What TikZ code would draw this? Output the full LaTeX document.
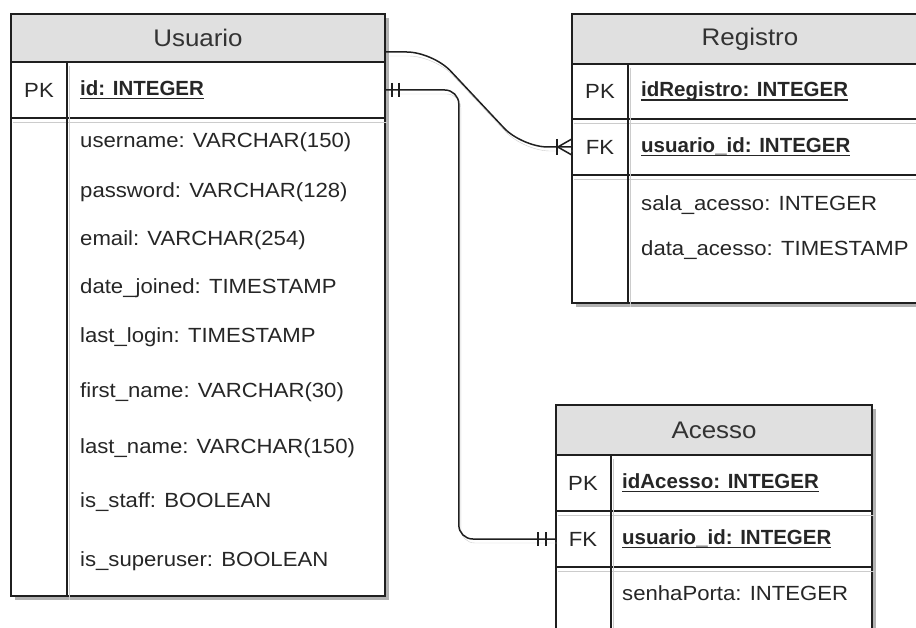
\documentclass[tikz,border=0pt]{standalone}
\usepackage{fontspec}
\setmainfont{Liberation Sans}[FakeStretch=1.08]
\newfontfamily\keyfont{Liberation Sans}
\newcommand\keyul[1]{\setbox0\hbox{#1}\rlap{\vrule width\wd0 height-2.6pt depth4pt}\box0}
\usepackage{tikz}
\usetikzlibrary{shadows}

\tikzset{
  er/.style={line width=1.5pt, draw=black!88},
  ershadow/.style={preaction={draw=black!20, transform canvas={shift={(2pt,-4pt)}}}},
  tablebox/.style={er, fill=white, drop shadow={shadow xshift=4pt, shadow yshift=-4pt, fill=black!30, opacity=1}},
  headbox/.style={er, fill=black!12, inner sep=0pt, text=black!80, font=\fontsize{24}{28}\selectfont},
  rowbox/.style={inner sep=0pt},
  keytxt/.style={text=black!85, inner sep=0pt, font=\fontsize{20.5}{24}\selectfont},
  pktxt/.style={anchor=west, text=black!85, inner sep=0pt, font=\keyfont\bfseries\fontsize{20.5}{24}\selectfont},
  fieldtxt/.style={anchor=west, text=black!85, inner sep=0pt, font=\fontsize{20.5}{24}\selectfont},
  conn/.style={er, ershadow},
  tick/.style={er}
}

\begin{document}
\begin{tikzpicture}[x=1pt, y=-1pt]
			\useasboundingbox (0,0) rectangle (916,628);
			\clip (0,0) rectangle (916,628);
			% Usuario
			\draw[tablebox] (11,14) rectangle (385,596);
			\node[headbox, minimum width=374pt, minimum height=48pt] (usuario) at (198,38) {Usuario};
			\node[rowbox, minimum width=374pt, minimum height=56pt] (usuPK) at (198,90) {};
			\draw[er, ershadow] (usuPK.south west) -- (usuPK.south east);
			\draw[er, ershadow] (67,62) -- (67,596);
			\node[keytxt] (usuPKlbl) at (39,90) {PK};
			\node[pktxt] (usuID) at (80,90) {\keyul{id: INTEGER}};
			\foreach \y/\t [count=\i] in {142/username: VARCHAR(150), 192/password: VARCHAR(128), 240/email: VARCHAR(254), 288/date\_joined: TIMESTAMP, 337/last\_login: TIMESTAMP, 392/first\_name: VARCHAR(30), 448/last\_name: VARCHAR(150), 502/is\_staff: BOOLEAN, 561/is\_superuser: BOOLEAN}
				\node[fieldtxt] (usuF\i) at (80,\y) {\t};
			% Registro
			\draw[tablebox] (572,14) rectangle (928,303);
			\node[headbox, minimum width=356pt, minimum height=50pt] (registro) at (750,39) {Registro};
			\node[rowbox, minimum width=356pt, minimum height=55pt] (regPK) at (750,91.5) {};
			\node[rowbox, minimum width=356pt, minimum height=56pt] (regFK) at (750,147) {};
			\draw[er, ershadow] (regPK.south west) -- (regPK.south east);
			\draw[er, ershadow] (regFK.south west) -- (regFK.south east);
			\draw[er, ershadow] (628,64) -- (628,303);
			\node[keytxt] (regPKlbl) at (600,91.5) {PK};
			\node[keytxt] (regFKlbl) at (600,147) {FK};
			\node[pktxt] (regID) at (641,91.5) {\keyul{idRegistro: INTEGER}};
			\node[pktxt] (regUsu) at (641,147) {\keyul{usuario\_id: INTEGER}};
			\node[fieldtxt] (regSala) at (641,205) {sala\_acesso: INTEGER};
			\node[fieldtxt] (regData) at (641,250) {data\_acesso: TIMESTAMP};
			% Acesso
			\draw[tablebox] (556,405) rectangle (872,690);
			\node[headbox, minimum width=316pt, minimum height=50pt] (acesso) at (714,430) {Acesso};
			\node[rowbox, minimum width=316pt, minimum height=56pt] (acPK) at (714,483) {};
			\node[rowbox, minimum width=316pt, minimum height=56pt] (acFK) at (714,539) {};
			\draw[er, ershadow] (acPK.south west) -- (acPK.south east);
			\draw[er, ershadow] (acFK.south west) -- (acFK.south east);
			\draw[er, ershadow] (611,455) -- (611,690);
			\node[keytxt] (acPKlbl) at (583,483) {PK};
			\node[keytxt] (acFKlbl) at (583,539) {FK};
			\node[pktxt] (acID) at (622,483) {\keyul{idAcesso: INTEGER}};
			\node[pktxt] (acUsu) at (622,539) {\keyul{usuario\_id: INTEGER}};
			\node[fieldtxt] (acSenha) at (622,593) {senhaPorta: INTEGER};
			% ligacoes
			\draw[conn, rounded corners=26pt] ([yshift=-14pt]usuario.east) -- ++(47,0) -- ([xshift=-50pt]regFK.west) -- (regFK.west);
			\draw[tick] ([xshift=-14pt]regFK.west) -- ([yshift=8pt]regFK.west);
			\draw[tick] ([xshift=-14pt]regFK.west) -- ([yshift=-8pt]regFK.west);
			\draw[tick] ([xshift=-15pt,yshift=8pt]regFK.west) -- ([xshift=-15pt,yshift=-8pt]regFK.west);
			\draw[conn, rounded corners=14pt] (usuPK.east) -| ([xshift=-97pt]acFK.west) -- (acFK.west);
			\draw[tick] ([xshift=7pt,yshift=7pt]usuPK.east) -- ([xshift=7pt,yshift=-7pt]usuPK.east);
			\draw[tick] ([xshift=14pt,yshift=7pt]usuPK.east) -- ([xshift=14pt,yshift=-7pt]usuPK.east);
			\draw[tick] ([xshift=-18pt,yshift=7pt]acFK.west) -- ([xshift=-18pt,yshift=-7pt]acFK.west);
			\draw[tick] ([xshift=-10pt,yshift=7pt]acFK.west) -- ([xshift=-10pt,yshift=-7pt]acFK.west);
		\end{tikzpicture}
\end{document}
